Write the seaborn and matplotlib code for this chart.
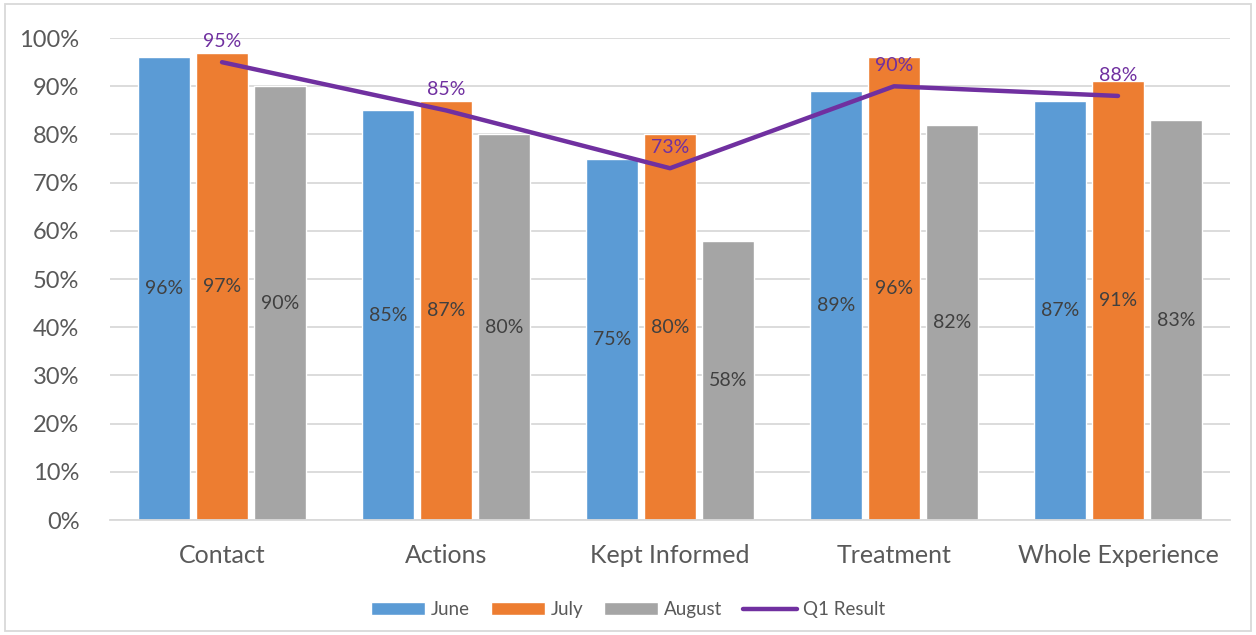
import numpy as np
import pandas as pd
import matplotlib
matplotlib.use("Agg")
import matplotlib.pyplot as plt
from matplotlib.patches import Rectangle, Patch
from matplotlib.lines import Line2D
import seaborn as sns

# ==================================================
# DATA
# ==================================================

categories = ["Contact", "Actions", "Kept Informed", "Treatment", "Whole Experience"]
months = ["June", "July", "August"]
june = [96, 85, 75, 89, 87]
july = [97, 87, 80, 96, 91]
august = [90, 80, 58, 82, 83]
q1_result = [95, 85, 73, 90, 88]

colors = {"June": "#5B9BD5", "July": "#ED7D31", "August": "#A5A5A5"}
line_color = "#7030A0"
text_color = "#595959"

df = pd.DataFrame({
    "category": categories * 3,
    "month": ["June"] * 5 + ["July"] * 5 + ["August"] * 5,
    "value": np.array(june + july + august) / 100,
})

# ==================================================
# PLOT
# ==================================================

sns.set_theme(style="white")
plt.rcParams["font.family"] = ["Lato", "DejaVu Sans"]

fig = plt.figure(figsize=(12.56, 6.35), dpi=100)
ax = fig.add_axes([0.0876, 0.181, 0.8917, 0.759])

sns.barplot(data=df, x="category", y="value", hue="month", order=categories,
            hue_order=months, palette=colors, saturation=1, width=0.78, gap=0.11,
            errorbar=None, ax=ax, legend=False, zorder=2)

# bar labels at the middle of each bar
for cont, vals in zip(ax.containers, [june, july, august]):
    for bar, v in zip(cont, vals):
        ax.text(bar.get_x() + bar.get_width() / 2, bar.get_height() / 2,
                f"{v}%", ha="center", va="center", fontsize=14, color="#404040")

# Q1 line
xpos = np.arange(len(categories))
ax.plot(xpos, np.array(q1_result) / 100, color=line_color, lw=3.2,
        solid_capstyle="round", zorder=3)
for x, v in zip(xpos, q1_result):
    ax.text(x, v / 100 + 0.025, f"{v}%", ha="center", va="bottom",
            fontsize=14, color=line_color, zorder=4)

# axes styling
ax.set_xlim(-0.5, len(categories) - 0.5)
ax.set_ylim(0, 1.0)
ax.set_yticks(np.arange(0, 1.01, 0.1))
ax.set_yticklabels([f"{int(round(t * 100))}%" for t in np.arange(0, 1.01, 0.1)])
ax.yaxis.grid(True, color="#D9D9D9", lw=1.3)
ax.set_axisbelow(True)
for s in ["top", "right", "left"]:
    ax.spines[s].set_visible(False)
ax.spines["bottom"].set_color("#D9D9D9")
ax.spines["bottom"].set_linewidth(1.3)
ax.tick_params(axis="y", labelsize=17, colors=text_color, length=0, pad=22)
ax.tick_params(axis="x", labelsize=18, colors=text_color, length=0, pad=17)
ax.set_xlabel("")
ax.set_ylabel("")

# legend
handles = [Patch(facecolor=colors[m], label=m) for m in months]
handles.append(Line2D([0], [0], color=line_color, lw=3.2, label="Q1 Result",
                      solid_capstyle="round"))
fig.legend(handles=handles, loc="center", bbox_to_anchor=(0.5, 0.04), ncol=4,
           frameon=False, fontsize=13.5, labelcolor=text_color,
           handlelength=2.9, handleheight=0.7, columnspacing=1.1, handletextpad=0.3)

# outer chart border
fig.patches.append(Rectangle((0.004, 0.006), 0.992, 0.988, transform=fig.transFigure,
                             fill=False, edgecolor="#D9D9D9", lw=1.3))

plt.savefig("out.png", dpi=100)
